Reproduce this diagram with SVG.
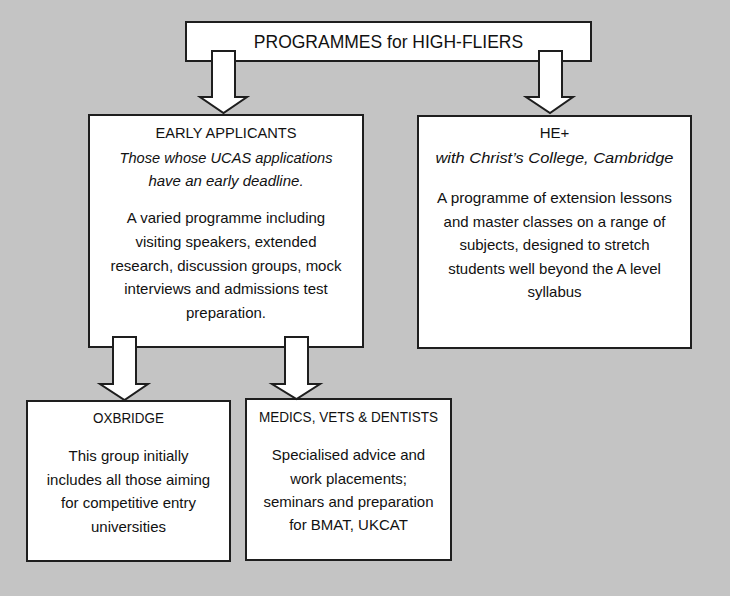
<svg xmlns="http://www.w3.org/2000/svg" width="730" height="596" viewBox="0 0 730 596">
<style>
.box{fill:#fff;stroke:#1e1e1e;stroke-width:2}
.arr{fill:#fff;stroke:#1e1e1e;stroke-width:2;stroke-linejoin:miter}
text{font-family:"Liberation Sans",Arial,sans-serif;font-size:15px;fill:#111;text-anchor:middle}
.t{font-size:17.5px}
.i{font-style:italic}
</style>
<rect width="730" height="596" fill="#c4c4c4"/>
<g id="node-top">
<rect class="box" x="186" y="22" width="405" height="39"/>
<text class="t" x="388.5" y="48">PROGRAMMES for HIGH-FLIERS</text>
</g>
<g id="node-early">
<rect class="box" x="89" y="115" width="274" height="232"/>
<text x="226" y="138" textLength="141" lengthAdjust="spacingAndGlyphs">EARLY APPLICANTS</text>
<text class="i" x="226" y="163" textLength="213" lengthAdjust="spacingAndGlyphs">Those whose UCAS applications</text>
<text class="i" x="226" y="186">have an early deadline.</text>
<text x="226" y="223">A varied programme including</text>
<text x="226" y="247">visiting speakers, extended</text>
<text x="226" y="271">research, discussion groups, mock</text>
<text x="226" y="294">interviews and admissions test</text>
<text x="226" y="318">preparation.</text>
</g>
<g id="node-he">
<rect class="box" x="418" y="116" width="273" height="232"/>
<text x="554.5" y="138">HE+</text>
<text class="i" x="554.5" y="163" textLength="238" lengthAdjust="spacingAndGlyphs">with Christ’s College, Cambridge</text>
<text x="554.5" y="203" textLength="235" lengthAdjust="spacingAndGlyphs">A programme of extension lessons</text>
<text x="554.5" y="227">and master classes on a range of</text>
<text x="554.5" y="250">subjects, designed to stretch</text>
<text x="554.5" y="274">students well beyond the A level</text>
<text x="554.5" y="297">syllabus</text>
</g>
<g id="node-oxbridge">
<rect class="box" x="27" y="401" width="203" height="160"/>
<text x="128.5" y="423" textLength="71" lengthAdjust="spacingAndGlyphs">OXBRIDGE</text>
<text x="128.5" y="461">This group initially</text>
<text x="128.5" y="485">includes all those aiming</text>
<text x="128.5" y="508">for competitive entry</text>
<text x="128.5" y="532">universities</text>
</g>
<g id="node-medics">
<rect class="box" x="246" y="399" width="205" height="161"/>
<text x="348.5" y="422" textLength="179" lengthAdjust="spacingAndGlyphs">MEDICS, VETS &amp; DENTISTS</text>
<text x="348.5" y="460">Specialised advice and</text>
<text x="348.5" y="484">work placements;</text>
<text x="348.5" y="507">seminars and preparation</text>
<text x="348.5" y="530">for BMAT, UKCAT</text>
</g>
<g id="connectors">
<polygon class="arr" points="212,51 235,51 235,97 247,97 223.5,113 200,97 212,97"/>
<polygon class="arr" points="539,51 562,51 562,97 573,97 550,113 526,97 539,97"/>
<polygon class="arr" points="113,337 136,337 136,384 148,384 124.5,400 100,384 113,384"/>
<polygon class="arr" points="285,337 308,337 308,384 320,384 296.5,399 272,384 285,384"/>
</g>
</svg>
